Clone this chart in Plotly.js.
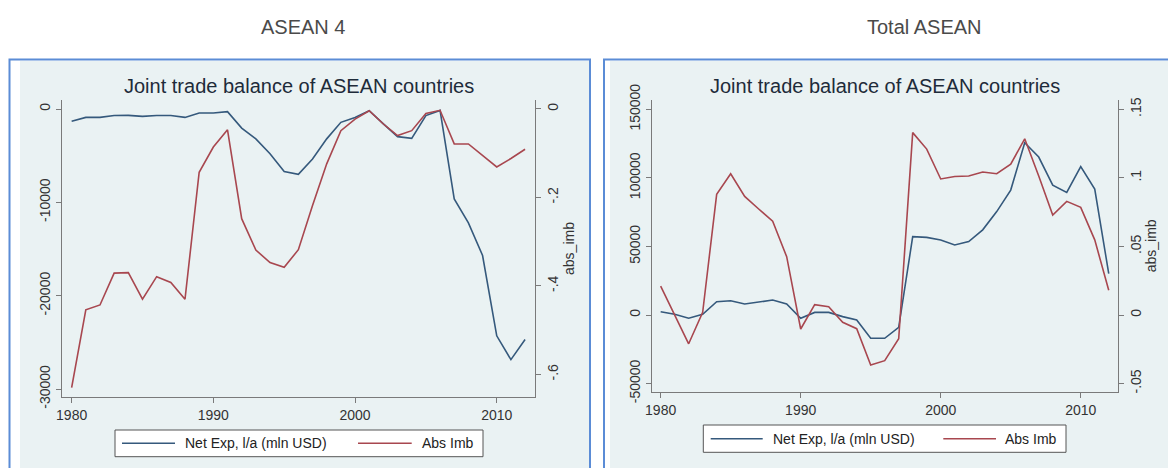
<!DOCTYPE html>
<html>
<head>
<meta charset="utf-8">
<script src="https://cdn.plot.ly/plotly-3.0.1.min.js"></script>
<style>
  html, body { margin: 0; padding: 0; background: #ffffff; }
  #chart { width: 1168px; height: 468px; }
</style>
</head>
<body>
<div id="chart"></div>
<script>
// Years covered by both panels
const years = [1980, 1981, 1982, 1983, 1984, 1985, 1986, 1987, 1988, 1989,
               1990, 1991, 1992, 1993, 1994, 1995, 1996, 1997, 1998, 1999,
               2000, 2001, 2002, 2003, 2004, 2005, 2006, 2007, 2008, 2009,
               2010, 2011, 2012];

// ASEAN 4: net exports (mln USD) and absolute imbalance
const asean4NetExp = [-1320, -900, -900, -700, -680, -790, -700, -700, -900, -430,
                      -430, -290, -2040, -3200, -4800, -6700, -7000, -5360, -3200, -1430,
                      -900, -180, -1600, -2960, -3140, -710, -150, -9640, -12200, -15700,
                      -24300, -26850, -24700];
const asean4AbsImb = [-0.630, -0.454, -0.443, -0.371, -0.370, -0.430, -0.379, -0.392, -0.430, -0.143,
                      -0.086, -0.047, -0.248, -0.319, -0.347, -0.358, -0.318, -0.218, -0.124, -0.049,
                      -0.023, -0.004, -0.034, -0.060, -0.049, -0.010, -0.003, -0.079, -0.079, -0.106,
                      -0.131, -0.112, -0.091];

// Total ASEAN: net exports (mln USD) and absolute imbalance
const totalNetExp = [2400, 500, -2400, 500, 9700, 10400, 8000, 9200, 10900, 8000,
                     -2400, 1900, 1900, -1200, -3600, -17000, -17000, -9000, 57100, 56600,
                     54700, 51100, 53600, 62100, 75400, 91100, 125600, 115200, 94700, 89400,
                     108200, 91800, 30200];
const totalAbsImb = [0.021, 0.000, -0.021, 0.002, 0.088, 0.103, 0.0865, 0.0773, 0.0684, 0.0425,
                     -0.0102, 0.0075, 0.0061, -0.0053, -0.0100, -0.0365, -0.0333, -0.0173, 0.133, 0.121,
                     0.0992, 0.1010, 0.1014, 0.1043, 0.103, 0.110, 0.1285, 0.1014, 0.0729, 0.0829,
                     0.0785, 0.0548, 0.0181];

// Tick labels
const yearTicks = [1980, 1990, 2000, 2010];
const yearTickText = ['1980', '1990', '2000', '2010'];
const asean4NetTicks = [0, -10000, -20000, -30000];
const asean4NetTickText = ['0', '-10000', '-20000', '-30000'];
const asean4ImbTicks = [0, -0.2, -0.4, -0.6];
const asean4ImbTickText = ['0', '-.2', '-.4', '-.6'];
const totalNetTicks = [150000, 100000, 50000, 0, -50000];
const totalNetTickText = ['150000', '100000', '50000', '0', '-50000'];
const totalImbTicks = [0.15, 0.1, 0.05, 0, -0.05];
const totalImbTickText = ['.15', '.1', '.05', '0', '-.05'];

const seriesNames = ['Net Exp, l/a (mln USD)', 'Abs Imb'];
const panelLabels = ['ASEAN 4', 'Total ASEAN'];
const chartTitle = 'Joint trade balance of ASEAN countries';
const imbAxisTitle = 'abs_imb';

// Page geometry helpers (pixels -> paper fractions)
const W = 1168, H = 468;
const px = v => v / W;
const py = v => 1 - v / H;

const FONT = 'Liberation Sans, Arial, Helvetica, sans-serif';
const NAVY = '#35597c';
const MAROON = '#a8474f';
const AXIS = '#7a7a7a';
const GRID = '#eaf2f3';
const PANEL_BG = '#eaf2f3';
const FRAME = '#5b8cd6';
const seriesColors = [NAVY, MAROON];

const traces = [
  { x: years, y: asean4NetExp, name: seriesNames[0], type: 'scatter', mode: 'lines',
    xaxis: 'x', yaxis: 'y', showlegend: false, line: { color: NAVY, width: 1.6 } },
  { x: years, y: asean4AbsImb, name: seriesNames[1], type: 'scatter', mode: 'lines',
    xaxis: 'x', yaxis: 'y2', showlegend: false, line: { color: MAROON, width: 1.6 } },
  { x: years, y: totalNetExp, name: seriesNames[0], type: 'scatter', mode: 'lines',
    xaxis: 'x2', yaxis: 'y3', showlegend: false, line: { color: NAVY, width: 1.6 } },
  { x: years, y: totalAbsImb, name: seriesNames[1], type: 'scatter', mode: 'lines',
    xaxis: 'x2', yaxis: 'y4', showlegend: false, line: { color: MAROON, width: 1.6 } }
];

const tickFont = { family: FONT, size: 14, color: '#333333' };

function xAxis(domain, range, anchor) {
  return {
    domain: domain, range: range, anchor: anchor,
    tickmode: 'array', tickvals: yearTicks, ticktext: yearTickText,
    ticks: 'outside', ticklen: 5, tickwidth: 1, tickcolor: AXIS,
    showline: true, linecolor: AXIS, linewidth: 1,
    showgrid: false, zeroline: false, tickfont: tickFont, fixedrange: true
  };
}

function yAxis(domain, range, anchor, vals, text, extra) {
  return Object.assign({
    domain: domain, range: range, anchor: anchor,
    tickmode: 'array', tickvals: vals, ticktext: text, tickangle: -90,
    ticks: 'outside', ticklen: 5, tickwidth: 1, tickcolor: AXIS,
    showline: true, linecolor: AXIS, linewidth: 1,
    showgrid: true, gridcolor: GRID, gridwidth: 1,
    zeroline: false, tickfont: tickFont, fixedrange: true
  }, extra || {});
}

const leftX = [px(62), px(535)];
const leftY = [py(397), py(100)];
const rightX = [px(651.7), px(1117.7)];
const rightY = [py(391.7), py(100)];

// Legend box under each panel: outlined box, two line keys and their labels
function legendParts(box, keys) {
  const shapes = [{
    type: 'rect', xref: 'paper', yref: 'paper', layer: 'above',
    x0: px(box.x0), x1: px(box.x1), y0: py(box.y0), y1: py(box.y1),
    fillcolor: '#ffffff', line: { color: '#555555', width: 1 }
  }];
  const notes = [];
  const mid = (box.y0 + box.y1) / 2;
  keys.forEach((k, i) => {
    shapes.push({
      type: 'line', xref: 'paper', yref: 'paper', layer: 'above',
      x0: px(k.l0), x1: px(k.l1), y0: py(mid), y1: py(mid),
      line: { color: seriesColors[i], width: 1.5 }
    });
    notes.push({
      text: seriesNames[i], xref: 'paper', yref: 'paper', x: px(k.t), y: py(mid),
      xanchor: 'left', yanchor: 'middle', showarrow: false,
      font: { family: FONT, size: 14, color: '#222222' }
    });
  });
  return { shapes, notes };
}

const leftLegend = legendParts({ x0: 115, x1: 483, y0: 430, y1: 456.7 },
  [{ l0: 122, l1: 175, t: 183 }, { l0: 358, l1: 411.7, t: 419.5 }]);
const rightLegend = legendParts({ x0: 703.3, x1: 1066, y0: 425, y1: 452.3 },
  [{ l0: 710.7, l1: 762.7, t: 770.5 }, { l0: 943.3, l1: 996, t: 1003 }]);

const layout = {
  width: W, height: H,
  margin: { l: 0, r: 0, t: 0, b: 0 },
  paper_bgcolor: '#ffffff',
  plot_bgcolor: '#ffffff',
  font: { family: FONT },
  showlegend: false,
  xaxis: xAxis(leftX, [1979.32, 2012.70], 'y'),
  yaxis: yAxis(leftY, [-30857, 964], 'x', asean4NetTicks, asean4NetTickText),
  yaxis2: yAxis(leftY, [-0.651, 0.0203], 'x', asean4ImbTicks, asean4ImbTickText,
    { overlaying: 'y', side: 'right', showgrid: false,
      title: { text: imbAxisTitle, font: { family: FONT, size: 14, color: '#333333' }, standoff: 4 } }),
  xaxis2: xAxis(rightX, [1979.36, 2012.64], 'y3'),
  yaxis3: yAxis(rightY, [-55940, 156800], 'x2', totalNetTicks, totalNetTickText),
  yaxis4: yAxis(rightY, [-0.05594, 0.1568], 'x2', totalImbTicks, totalImbTickText,
    { overlaying: 'y3', side: 'right', showgrid: false,
      title: { text: imbAxisTitle, font: { family: FONT, size: 14, color: '#333333' }, standoff: 2 } }),
  shapes: [
    // graph regions with their blue frames
    { type: 'rect', xref: 'paper', yref: 'paper', layer: 'below',
      x0: px(20), x1: px(589), y0: py(61), y1: py(475), fillcolor: PANEL_BG, line: { width: 0 } },
    { type: 'rect', xref: 'paper', yref: 'paper', layer: 'below',
      x0: px(9.5), x1: px(590), y0: py(59.5), y1: py(480), fillcolor: 'rgba(0,0,0,0)',
      line: { color: FRAME, width: 2 } },
    { type: 'rect', xref: 'paper', yref: 'paper', layer: 'below',
      x0: px(610), x1: px(1180), y0: py(61), y1: py(475), fillcolor: PANEL_BG, line: { width: 0 } },
    { type: 'rect', xref: 'paper', yref: 'paper', layer: 'below',
      x0: px(604), x1: px(1190), y0: py(59.5), y1: py(480), fillcolor: 'rgba(0,0,0,0)',
      line: { color: FRAME, width: 2 } }
  ].concat(leftLegend.shapes, rightLegend.shapes),
  annotations: [
    { text: panelLabels[0], xref: 'paper', yref: 'paper', x: px(302.5), y: py(27),
      xanchor: 'center', yanchor: 'middle', showarrow: false,
      font: { family: FONT, size: 20, color: '#4a4a4a' } },
    { text: panelLabels[1], xref: 'paper', yref: 'paper', x: px(924), y: py(27),
      xanchor: 'center', yanchor: 'middle', showarrow: false,
      font: { family: FONT, size: 20, color: '#4a4a4a' } },
    { text: chartTitle, xref: 'paper', yref: 'paper', x: px(299), y: py(86),
      xanchor: 'center', yanchor: 'middle', showarrow: false,
      font: { family: FONT, size: 20, color: '#1e2b3a' } },
    { text: chartTitle, xref: 'paper', yref: 'paper', x: px(884.5), y: py(86),
      xanchor: 'center', yanchor: 'middle', showarrow: false,
      font: { family: FONT, size: 20, color: '#1e2b3a' } }
  ].concat(leftLegend.notes, rightLegend.notes)
};

Plotly.newPlot('chart', traces, layout, { displayModeBar: false, staticPlot: true });
</script>
</body>
</html>
